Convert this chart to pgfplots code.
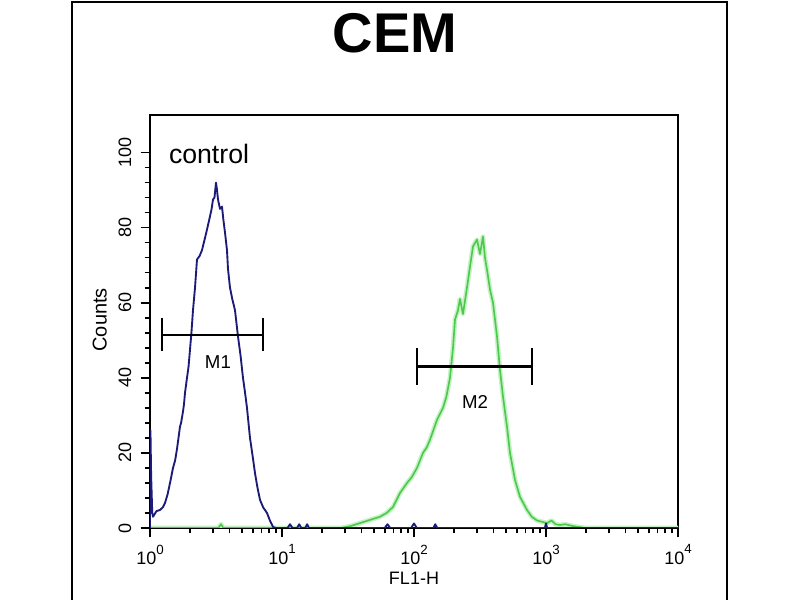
\documentclass[border=0pt]{standalone}
\usepackage{pgfplots}
\pgfplotsset{compat=1.18}
\usepackage{pgfplotstable}
\usepackage{fontspec}
\setmainfont{Liberation Sans}
\definecolor{navy}{HTML}{1C1C78}
\definecolor{fgreen}{HTML}{4CC84C}
\definecolor{fglow}{HTML}{C4F2C4}
\newcommand{\dec}[1]{10\raisebox{0.6em}{\fontsize{10}{10}\selectfont #1}}

\pgfplotstableread{
x y
1.0 0
1.008 26
1.02 14
1.04 4
1.054 3
1.12 4.5
1.19 4.8
1.25 5.5
1.3 6.7
1.36 9
1.418 12
1.494 16
1.55 18
1.601 21
1.688 27
1.72 28
1.778 31
1.81 33
1.842 36
1.907 40
1.96 43
2.009 47.5
2.06 52
2.117 58
2.193 64
2.27 71.5
2.38 72.5
2.477 74
2.60 77
2.703 79.5
2.848 83
2.93 85
3.001 87.5
3.08 88
3.162 92
3.22 90
3.275 87.5
3.391 85
3.511 85.6
3.60 82
3.70 78.7
3.831 74
3.899 69
4.037 64
4.20 61
4.405 58
4.642 51
4.85 46
5.064 40
5.25 36
5.43 32
5.722 24
6.0 19
6.245 14.6
6.5 11
6.813 7.5
7.2 5.5
7.697 4
8.1 2
8.548 0.3
9.0 0
11.0 0
11.5 1
12.0 0
13.0 0
13.5 1
14.0 0
15.0 0
15.5 1
16.0 0
60 0
63 1
66 0
95 0
100 1.2
105 0
140 0
145 1
150 0
980 0
1000 1.2
1020 0
10000 0
}\bluedata

\pgfplotstableread{
x y
1 0
3.3 0
3.45 1
3.6 0
28 0
33 0.5
38.98 1.3
45 2
55.26 3
62 4
69.33 5.6
78.3 9.3
88.5 12
96 13.5
105.4 16
117 20
125 21.5
132.2 23.5
149.4 28.8
165.9 32
176 35
187.4 40
197.5 48
204.5 55.5
215.4 58
223.1 61
235 57
252 64
265.6 69.6
279.9 75
300.2 76.8
316.2 73
333.2 77.6
345 72
357.3 68.8
376.6 63.5
396.8 60
425.5 51
448.4 42
472.4 35
506.4 27
533.7 20
582.4 12.8
635.3 8.3
718 4.8
780 3
854.8 2
1017.6 1.3
1100 2
1180 1
1276.6 0.8
1400 1
1601.6 0.5
2000 0
10000 0
}\greendata

\begin{document}
\begin{tikzpicture}
\useasboundingbox (0pt,0pt) rectangle (600pt,450pt);
\fill[white] (0pt,0pt) rectangle (600pt,450pt);
\draw[line width=1.4pt] (54pt,-4pt) -- (54pt,448.5pt) -- (545.25pt,448.5pt) -- (545.25pt,-4pt);
\node[font=\fontsize{42}{46}\selectfont\bfseries] at (296.25pt,425.25pt) {CEM};
\begin{axis}[
  at={(112.5pt,54pt)}, anchor=south west, scale only axis,
  width=396pt, height=309.75pt,
  xmode=log, xmin=1, xmax=10000, ymin=0, ymax=110,
  xtick={1,10,100,1000,10000},
  xticklabels={\dec{0},\dec{1},\dec{2},\dec{3},\dec{4}},
  minor xtick={2,3,4,5,6,7,8,9,20,30,40,50,60,70,80,90,200,300,400,500,600,700,800,900,2000,3000,4000,5000,6000,7000,8000,9000},
  ytick={0,20,40,60,80,100},
  minor y tick num=4,
  tick align=outside, xtick pos=left, ytick pos=left,
  major tick length=7pt, minor tick length=4pt,
  every tick/.style={black, line width=1.2pt},
  axis line style={line width=1.5pt},
  /pgf/number format/assume math mode=true,
  xticklabel style={font=\fontsize{13.5}{15}\selectfont},
  yticklabel style={font=\fontsize{13.5}{15}\selectfont, rotate=90, anchor=south},
  yticklabel shift=3.5pt, xticklabel shift=2pt,
  xlabel={FL1-H}, ylabel={Counts},
  xlabel style={font=\fontsize{13.5}{15}\selectfont, at={(axis description cs:0.5,-0.121)}, anchor=center},
  ylabel style={font=\fontsize{15}{17}\selectfont, at={(axis description cs:-0.095,0.504)}, anchor=center},
  clip=true,
]
\addplot[fglow, line width=3.5pt, line join=round] table[x=x,y=y] {\greendata};
\addplot[fgreen, line width=1.2pt, line join=round] table[x=x,y=y] {\greendata};
\addplot[navy, line width=1.4pt, line join=round] table[x=x,y=y] {\bluedata};
\draw[black, line width=1.6pt] (axis cs:1.226,51.5) -- (axis cs:7.18,51.5);
\draw[black, line width=1.6pt] (axis cs:1.226,47.1) -- (axis cs:1.226,55.9);
\draw[black, line width=1.6pt] (axis cs:7.18,47.1) -- (axis cs:7.18,55.9);
\draw[black, line width=1.6pt] (axis cs:104.8,43) -- (axis cs:779,43);
\draw[black, line width=1.6pt] (axis cs:104.8,38.1) -- (axis cs:104.8,47.9);
\draw[black, line width=1.6pt] (axis cs:779,38.1) -- (axis cs:779,47.9);
\node[font=\fontsize{14}{15}\selectfont] at (axis cs:3.27,44.3) {M1};
\node[font=\fontsize{14}{15}\selectfont] at (axis cs:290,33.6) {M2};
\node[font=\fontsize{20}{22}\selectfont] at (axis cs:2.8,99.5) {control};
\end{axis}
\end{tikzpicture}
\end{document}
